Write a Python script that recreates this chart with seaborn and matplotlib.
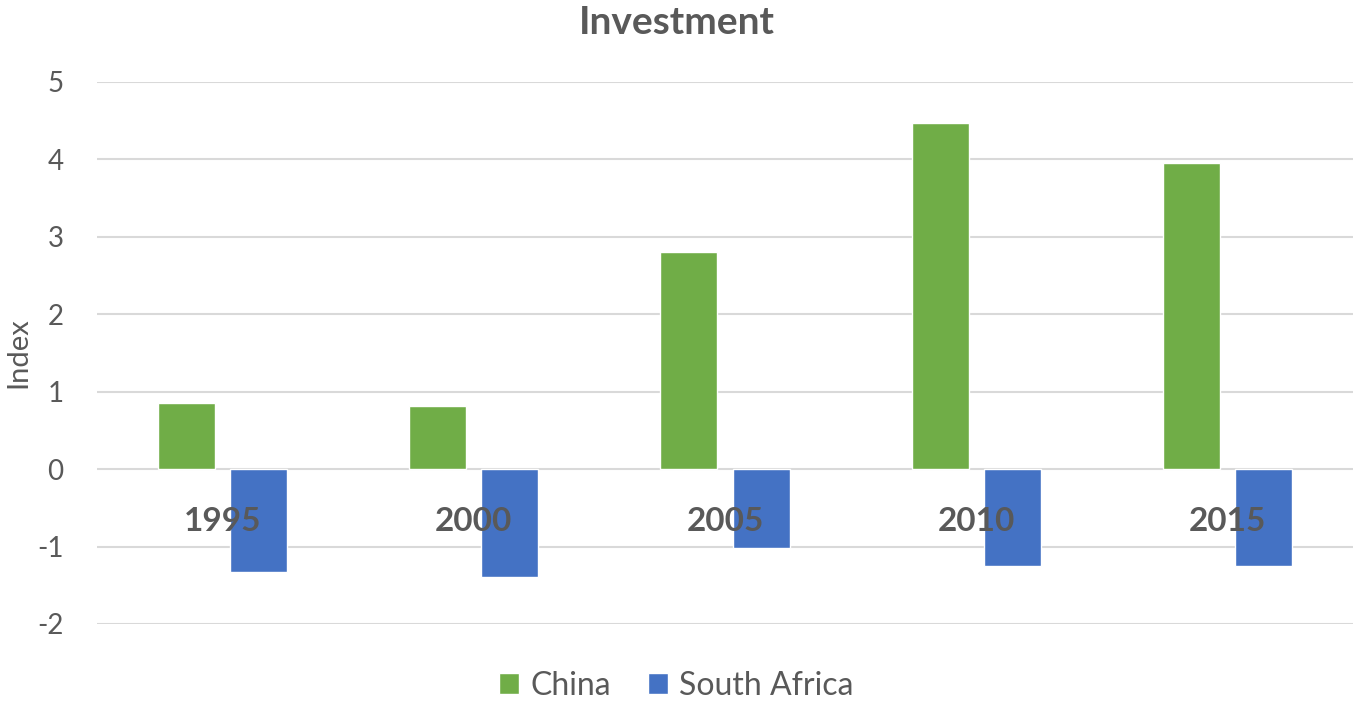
import matplotlib
matplotlib.use("Agg")
import matplotlib.pyplot as plt
import seaborn as sns
import pandas as pd

# Investment index by year
years = ["1995", "2000", "2005", "2010", "2015"]
china = [0.85, 0.81, 2.81, 4.47, 3.95]
south_africa = [-1.33, -1.39, -1.02, -1.25, -1.25]
countries = ["China", "South Africa"]
colors = ["#70AD47", "#4472C4"]
y_ticks = [-2, -1, 0, 1, 2, 3, 4, 5]

df = pd.DataFrame({
    "Year": years * 2,
    "Value": china + south_africa,
    "Country": [countries[0]] * len(years) + [countries[1]] * len(years),
})

sns.set_theme(style="white")
plt.rcParams["font.family"] = ["Lato", "DejaVu Sans"]
plt.rcParams["axes.unicode_minus"] = False
text_gray = "#595959"

fig = plt.figure(figsize=(13.53, 7.02), dpi=100)
ax = fig.add_axes([97 / 1353, 1 - 624 / 702, 1 - 97 / 1353, (624 - 82) / 702])

sns.barplot(data=df, x="Year", y="Value", hue="Country", order=years,
            hue_order=countries, palette=colors, saturation=1,
            width=0.574, gap=0.21, ax=ax, legend=True, zorder=2)

ax.set_ylim(-2, 5)
ax.set_xlim(-0.5, len(years) - 0.5)
ax.set_yticks(y_ticks)
# gridlines sit under the bars; the category labels stay on top of them
for t in y_ticks:
    ax.axhline(t, color="#D9D9D9", linewidth=1.5, zorder=0)
ax.set_axisbelow(False)
for s in ax.spines.values():
    s.set_visible(False)
ax.spines["bottom"].set_position(("data", 0))

ax.tick_params(axis="y", length=0, pad=24, labelsize=20, labelcolor=text_gray)
ax.tick_params(axis="x", length=0, pad=27, labelsize=24, labelcolor=text_gray)
for lbl in ax.get_xticklabels():
    lbl.set_fontweight("bold")

ax.set_xlabel("")
ax.set_ylabel("Index", fontsize=21, color=text_gray)
ax.yaxis.set_label_coords(-0.052, 0.5)

fig.suptitle("Investment", x=0.5, y=1 - 22 / 702, va="center",
             fontsize=28, fontweight="bold", color=text_gray)

handles, labels = ax.get_legend_handles_labels()
ax.get_legend().remove()
fig.legend(handles, labels, loc="center", bbox_to_anchor=(0.5, 1 - 686 / 702),
           bbox_transform=fig.transFigure, ncol=2, frameon=False,
           fontsize=23, labelcolor=text_gray, handlelength=0.63,
           handleheight=0.63, handletextpad=0.35, columnspacing=1.15)

fig.savefig("out.png", dpi=100)
